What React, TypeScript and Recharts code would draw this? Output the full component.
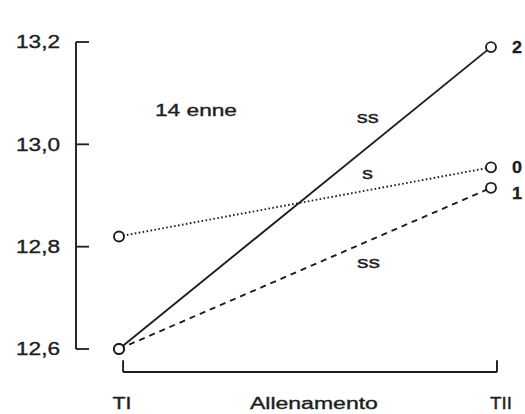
import { LineChart, Line, XAxis, YAxis, ReferenceLine, ReferenceDot, LabelList } from "recharts";

// Two test sessions, before (TI) and after (TII) the training block.
const PHASES = [0, 1];
const PHASE_LABELS = ["TI", "TII"];

// Group means per session; the series name is the group id printed at the right end.
const GROUP_0 = [12.82, 12.955];
const GROUP_1 = [12.6, 12.915];
const GROUP_2 = [12.6, 13.19];

const Y_TICKS = [12.6, 12.8, 13.0, 13.2];

// Free text placed in data units (x: 0 = TI, 1 = TII); width is the stretched text length.
const NOTES = [
  { text: "14 enne", x: 0.207, y: 13.055, width: 82 },
  { text: "ss", x: 0.669, y: 13.042, width: 22 },
  { text: "s", x: 0.668, y: 12.932, width: 11 },
  { text: "ss", x: 0.671, y: 12.758, width: 23 },
  { text: "Allenamento", x: 0.524, y: 12.482, width: 128 },
];

const rows = PHASES.map((t, i) => ({ t, g0: GROUP_0[i], g1: GROUP_1[i], g2: GROUP_2[i] }));

const INK = "#1e1e1e";
const FONT = "'Liberation Sans', Arial, sans-serif";

// slightly heavier strokes on glyphs, the print is a bit bold
const TEXT_STYLE = {
  fontFamily: FONT,
  fill: INK,
  stroke: INK,
  strokeWidth: 0.35,
  lengthAdjust: "spacingAndGlyphs",
};

// bracket under the x axis, spanning both sessions
const BRACKET_LEFT = 0.011;
const BRACKET_RIGHT = 1.016;
const BRACKET_LOW = 12.555;
const BRACKET_HIGH = 12.578;

function ValueTick({ x, y, payload }: any) {
  return (
    <g>
      <line x1={x} x2={x + 13} y1={y} y2={y} stroke={INK} strokeWidth={1.8} />
      <text {...TEXT_STYLE} x={x - 16} y={y} dy="0.36em" textAnchor="end" fontSize={18} textLength={44}>
        {payload.value.toFixed(1).replace(".", ",")}
      </text>
    </g>
  );
}

function PhaseTick({ x, y, payload, index }: any) {
  const label = PHASE_LABELS[payload.value];
  return (
    <text
      {...TEXT_STYLE}
      x={x + (index ? 10 : 3)}
      y={y + 60}
      textAnchor="middle"
      fontSize={16}
      textLength={label.length === 2 ? 19 : 22}
    >
      {label}
    </text>
  );
}

function OpenDot({ cx, cy, index }: any) {
  return <circle key={index} cx={cx} cy={cy} r={5} fill="#fff" stroke={INK} strokeWidth={1.9} />;
}

function groupLabel(name: string, dy: number) {
  return ({ x, y, index }: any) =>
    index === 1 ? (
      <text {...TEXT_STYLE} x={x + 21} y={y + dy} dy="0.36em" fontSize={17} fontWeight="bold" textLength={10}>
        {name}
      </text>
    ) : null;
}

export default function App() {
  return (
    <div style={{ position: "absolute", left: 0, top: 0, background: "#fff" }}>
      <LineChart width={525} height={414} data={rows} margin={{ top: 42, right: 34, bottom: 0, left: 0 }}>
        <XAxis
          dataKey="t"
          type="number"
          domain={[0, 1]}
          ticks={PHASES}
          padding={{ left: 43, right: 0 }}
          axisLine={false}
          tickLine={false}
          tickSize={0}
          tickMargin={0}
          height={65}
          tick={PhaseTick}
        />
        <YAxis
          type="number"
          domain={[12.6, 13.2]}
          ticks={Y_TICKS}
          width={76}
          axisLine={{ stroke: INK, strokeWidth: 1.9 }}
          tickLine={false}
          tickSize={0}
          tickMargin={0}
          tick={ValueTick}
        />
        <ReferenceLine
          segment={[{ x: BRACKET_LEFT, y: BRACKET_HIGH }, { x: BRACKET_LEFT, y: BRACKET_LOW }]}
          ifOverflow="visible"
          stroke={INK}
          strokeWidth={1.9}
        />
        <ReferenceLine
          segment={[{ x: BRACKET_LEFT, y: BRACKET_LOW }, { x: BRACKET_RIGHT, y: BRACKET_LOW }]}
          ifOverflow="visible"
          stroke={INK}
          strokeWidth={1.9}
        />
        <ReferenceLine
          segment={[{ x: BRACKET_RIGHT, y: BRACKET_LOW }, { x: BRACKET_RIGHT, y: BRACKET_HIGH }]}
          ifOverflow="visible"
          stroke={INK}
          strokeWidth={1.9}
        />
        {NOTES.map((n, i) => (
          <ReferenceDot
            key={i}
            x={n.x}
            y={n.y}
            r={0}
            ifOverflow="visible"
            shape={(p: any) => (
              <text {...TEXT_STYLE} x={p.cx} y={p.cy} textAnchor="middle" fontSize={16} textLength={n.width}>
                {n.text}
              </text>
            )}
          />
        ))}
        <Line
          dataKey="g0"
          name="0"
          stroke={INK}
          strokeWidth={1.9}
          strokeDasharray="1.6 2.4"
          dot={OpenDot}
          activeDot={false}
          isAnimationActive={false}
        >
          <LabelList dataKey="g0" content={groupLabel("0", 0)} />
        </Line>
        <Line
          dataKey="g1"
          name="1"
          stroke={INK}
          strokeWidth={1.9}
          strokeDasharray="6 5"
          dot={OpenDot}
          activeDot={false}
          isAnimationActive={false}
        >
          <LabelList dataKey="g1" content={groupLabel("1", 5)} />
        </Line>
        <Line
          dataKey="g2"
          name="2"
          stroke={INK}
          strokeWidth={1.9}
          dot={OpenDot}
          activeDot={false}
          isAnimationActive={false}
        >
          <LabelList dataKey="g2" content={groupLabel("2", 0)} />
        </Line>
      </LineChart>
    </div>
  );
}
